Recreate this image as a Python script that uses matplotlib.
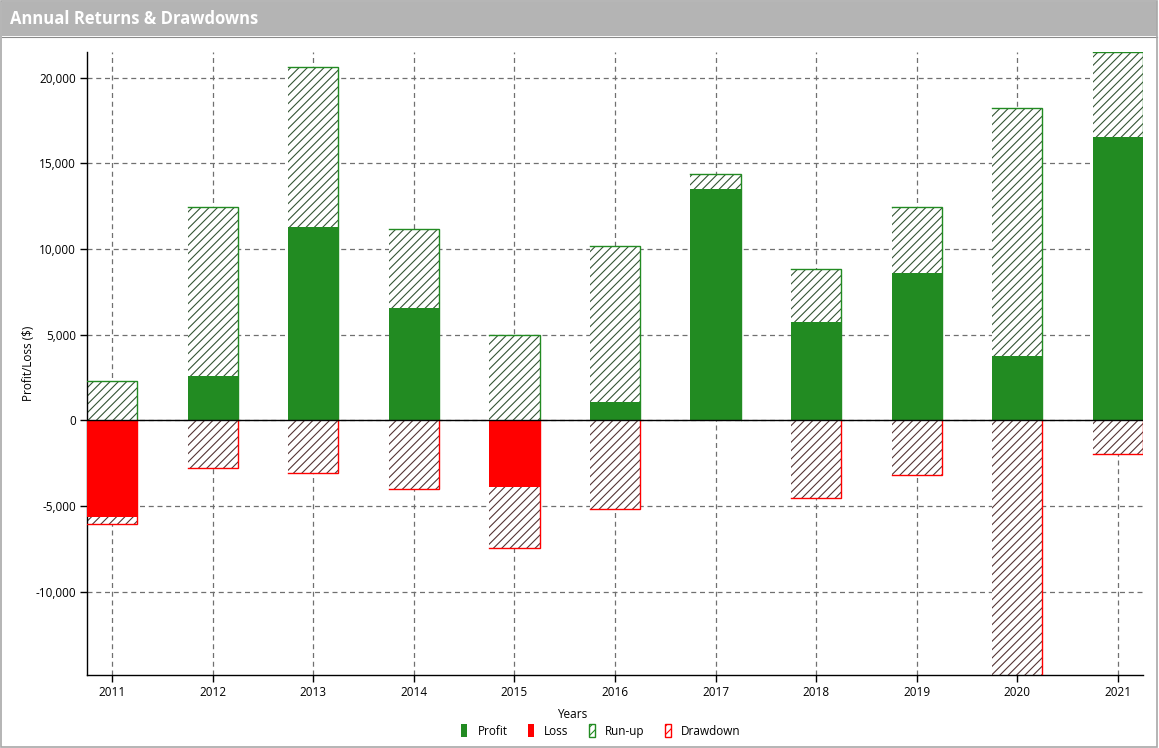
import matplotlib
matplotlib.use("Agg")
import matplotlib.pyplot as plt
from matplotlib.patches import Patch, Rectangle
from matplotlib.ticker import FuncFormatter, MultipleLocator

years = ["2011", "2012", "2013", "2014", "2015", "2016", "2017", "2018", "2019", "2020", "2021"]
net_pl = [-5640, 2570, 11310, 6530, -3910, 1050, 13530, 5710, 8570, 3730, 16560]
run_up = [2270, 12480, 20640, 11140, 4960, 10200, 14400, 8860, 12480, 18250, 21500]
drawdown = [-6080, -2810, -3090, -4020, -7460, -5190, 0, -4550, -3210, -16000, -1980]

GREEN = "#228B22"
RED = "#FF0000"
HATCH_G = "#355535"
HATCH_R = "#553535"

plt.rcParams["font.family"] = ["Open Sans", "DejaVu Sans"]
plt.rcParams["hatch.linewidth"] = 0.8

fig = plt.figure(figsize=(11.59, 7.48), dpi=100)
ax = fig.add_axes([87 / 1159, 1 - 675 / 748, (1143 - 87) / 1159, (675 - 52) / 748])

# title bar
fig.patches.append(Rectangle((2 / 1159, 1 - 36 / 748), 1155 / 1159, 34 / 748,
                             transform=fig.transFigure, facecolor="#b4b4b4",
                             edgecolor="none", zorder=0))
fig.lines.append(plt.Line2D([2 / 1159, 1157 / 1159], [1 - 36.5 / 748] * 2,
                            transform=fig.transFigure, color="#8a8a8a", lw=0.8))
fig.patches.append(Rectangle((1 / 1159, 1 / 748), 1156 / 1159, 746 / 748,
                             transform=fig.transFigure, facecolor="none",
                             edgecolor="#a8a8a8", lw=1.2, zorder=5))
fig.text(10 / 1159, 1 - 19 / 748, "Annual Returns & Drawdowns", color="white",
         fontsize=12, fontweight="bold", va="center", ha="left")

x = list(range(len(years)))
w = 0.5
ax.bar(x, run_up, width=w, facecolor="white", edgecolor=HATCH_G, linewidth=0,
       hatch="////", zorder=2)
ax.bar(x, drawdown, width=w, facecolor="white", edgecolor=HATCH_R, linewidth=0,
       hatch="////", zorder=2)
for i in x:
    if run_up[i] != 0:
        ax.plot([i - w / 2, i + w / 2, i + w / 2], [run_up[i], run_up[i], 0],
                color=GREEN, lw=1, zorder=3, solid_joinstyle="miter")
    if drawdown[i] != 0:
        ax.plot([i - w / 2, i + w / 2, i + w / 2], [drawdown[i], drawdown[i], 0],
                color=RED, lw=1, zorder=3, solid_joinstyle="miter")
colors = [GREEN if v >= 0 else RED for v in net_pl]
ax.bar(x, net_pl, width=w, color=colors, linewidth=0, zorder=4)

ax.axhline(0, color="black", lw=1, zorder=5)

ax.set_xlim(-0.25, len(years) - 0.75)
ax.set_ylim(-14870, 21500)
ax.set_xticks(x)
ax.set_xticklabels(years)
ax.yaxis.set_major_locator(MultipleLocator(5000))
ax.yaxis.set_major_formatter(FuncFormatter(lambda v, p: f"{v:,.0f}"))
ax.tick_params(labelsize=8.5, length=5, width=1, colors="black", pad=3)
ax.grid(True, color="#707070", linestyle=(0, (4, 3)), lw=0.9, zorder=1)
ax.set_axisbelow(True)
for s in ["top", "right"]:
    ax.spines[s].set_visible(False)
for s in ["left", "bottom"]:
    ax.spines[s].set_color("black")
    ax.spines[s].set_linewidth(1)

ax.set_ylabel("Profit/Loss ($)", fontsize=8.5, labelpad=0)
fig.text(572 / 1159, 1 - 714 / 748, "Years", fontsize=8.5, ha="center", va="center")

handles = [
    Patch(facecolor=GREEN, edgecolor="none", label="Profit"),
    Patch(facecolor=RED, edgecolor="none", label="Loss"),
    Patch(facecolor="white", edgecolor=GREEN, hatch="////", lw=1, label="Run-up"),
    Patch(facecolor="white", edgecolor=RED, hatch="////", lw=1, label="Drawdown"),
]
fig.legend(handles=handles, loc="center", bbox_to_anchor=(601 / 1159, 1 - 731 / 748),
           ncol=4, frameon=False, fontsize=8.5, handlelength=0.5, handleheight=1.3,
           handletextpad=0.9, columnspacing=1.7)

fig.savefig("out.png", dpi=100)
